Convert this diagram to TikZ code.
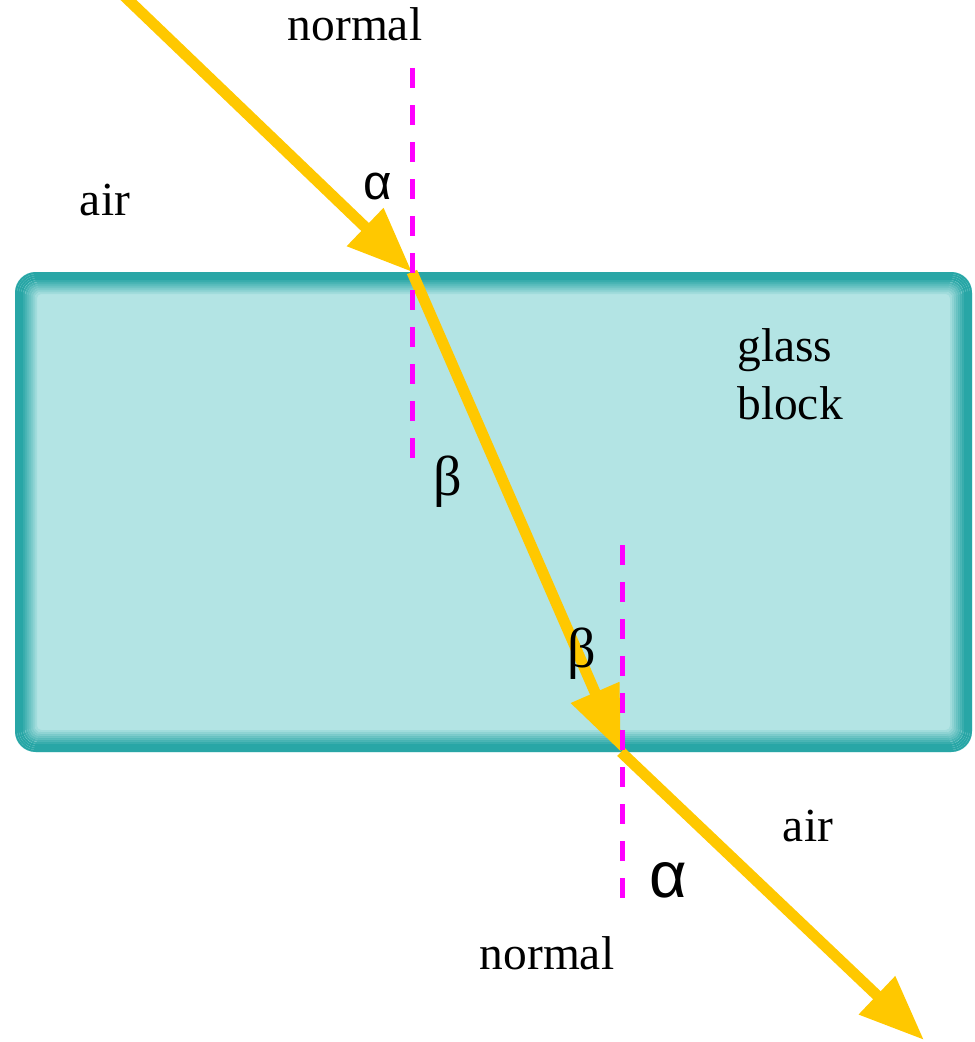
\documentclass[tikz,border=0pt]{standalone}
\usepackage{fontspec}
\setmainfont{Liberation Serif}
\newfontfamily\greeksans{Liberation Sans}
\usepackage{tikz}
\usetikzlibrary{arrows.meta}
\definecolor{raygold}{RGB}{255,200,0}
\definecolor{glassfill}{RGB}{179,228,228}
\definecolor{glassedge}{RGB}{40,166,166}
\definecolor{normalpink}{RGB}{255,0,255}

\begin{document}
\begin{tikzpicture}[x=0.2mm,y=-0.2mm,
    ray/.style={draw=raygold,line width=2.2mm,-{Triangle[length=13mm,width=10mm]}},
    normalline/.style={draw=normalpink,line width=1mm,dash pattern=on 4mm off 3.4mm},
    lbl/.style={font=\fontsize{27}{33}\selectfont},
    anglein/.style={font=\fontsize{32}{32}\selectfont},
    angle/.style={font=\greeksans\fontsize{#1}{#1}\selectfont}]
  \useasboundingbox (0,0) rectangle (974,1042);
  % the glass block, rim fading inwards
  \fill[glassfill,rounded corners=4mm] (15,272) rectangle (972,752);
  \foreach \k in {0,...,10} {
    \pgfmathsetmacro\op{min(1,(11-\k)/8)}
    \pgfmathsetlengthmacro\rc{(20-1.5*\k)*0.2mm}
    \draw[glassedge,opacity=\op,line width=0.4mm,rounded corners=\rc]
      (16+2*\k,273+2*\k) rectangle (971-2*\k,751-2*\k);
  }
  % points where the ray meets the faces
  \coordinate (src) at (118,-10);
  \coordinate (entry) at (412,272);
  \coordinate (exit) at (621,752);
  \coordinate (dst) at (924,1040);
  \draw[ray] (src) -- (entry);
  \draw[ray] (entry) -- (exit);
  \draw[ray] (exit) -- (dst);
  % normals
  \coordinate (n1a) at (412,68);
  \coordinate (n1b) at (412,460);
  \coordinate (n2a) at (622,545);
  \coordinate (n2b) at (622,905);
  \draw[normalline] (n1a) -- (n1b);
  \draw[normalline] (n2a) -- (n2b);
  % labels
  \node[lbl] (normaltop) at (355,24) {normal};
  \node[lbl] (airtop) at (105,200) {air};
  \node[angle=28pt] (alphain) at (378,187) {α};
  \node[lbl,align=left] (glass) at (790,374) {glass\\block};
  \node[anglein] (betain) at (448,482) {β};
  \node[anglein] (betaout) at (582,654) {β};
  \node[lbl] (airbot) at (808,826) {air};
  \node[angle=37pt] (alphaout) at (668,880) {α};
  \node[lbl] (normalbot) at (547,953) {normal};
\end{tikzpicture}
\end{document}
